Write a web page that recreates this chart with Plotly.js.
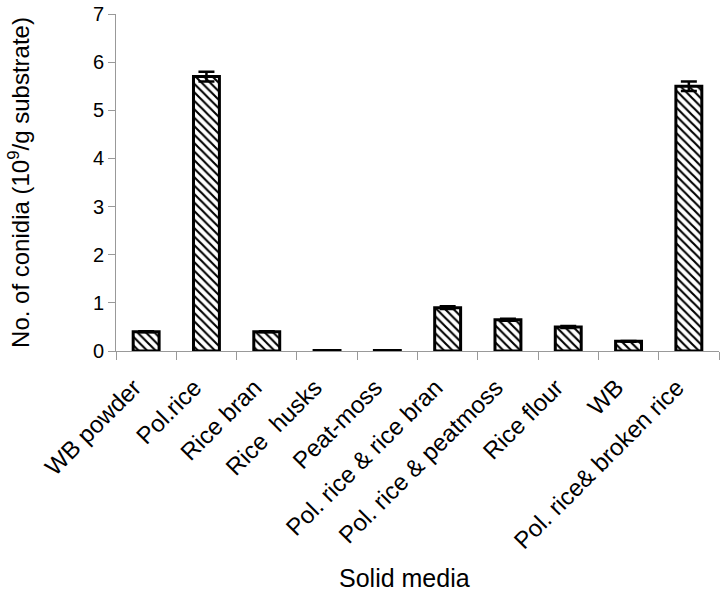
<!DOCTYPE html>
<html>
<head>
<meta charset="utf-8">
<script src="https://cdn.plot.ly/plotly-3.0.1.min.js"></script>
<style>html,body{margin:0;padding:0;background:#fff;}#chart{width:721px;height:591px;}</style>
</head>
<body>
<div id="chart"></div>
<script>
const categories = ["WB powder", "Pol.rice", "Rice bran", "Rice  husks", "Peat-moss", "Pol. rice & rice bran", "Pol. rice & peatmoss", "Rice flour", "WB", "Pol. rice& broken rice"];
const conidia = [0.4, 5.7, 0.4, 0.01, 0.01, 0.9, 0.65, 0.5, 0.2, 5.5];
const errors = [0.01, 0.1, 0.01, 0, 0, 0.03, 0.02, 0.02, 0.01, 0.1];
const yTicks = [0, 1, 2, 3, 4, 5, 6, 7];
const xTitle = "Solid media";
const yTitle = "No. of conidia (10<sup>9</sup>/g substrate)";

const font = "Liberation Sans, Arial, sans-serif";
Plotly.newPlot("chart", [{
  type: "bar",
  x: categories,
  y: conidia,
  width: 0.43,
  marker: {
    color: "#ffffff",
    line: {color: "#000000", width: 3},
    pattern: {shape: "\\", fgcolor: "#000000", bgcolor: "#ffffff", size: 6, solidity: 0.35}
  },
  error_y: {type: "data", array: errors, visible: true, color: "#000000", thickness: 2.5, width: 8}
}], {
  width: 721, height: 591,
  margin: {l: 116, r: 2, t: 14, b: 240},
  paper_bgcolor: "#ffffff", plot_bgcolor: "#ffffff",
  showlegend: false,
  font: {family: font, color: "#000000"},
  xaxis: {
    tickangle: -45,
    tickfont: {size: 24, family: font, color: "#000"},
    ticklabelstandoff: 12,
    ticklabelshift: -12,
    showline: true, linecolor: "#999999", linewidth: 1,
    ticks: "outside", ticklen: 8, tickcolor: "#999999",
    tickson: "boundaries",
    showgrid: false, zeroline: false
  },
  yaxis: {
    range: [0, 7],
    tickvals: yTicks,
    tickfont: {size: 20, family: font, color: "#000"},
    showline: true, linecolor: "#999999", linewidth: 1,
    ticks: "outside", ticklen: 7, tickcolor: "#999999",
    showgrid: false, zeroline: false,
    title: {text: yTitle, font: {size: 24, family: font, color: "#000"}, standoff: 56}
  },
  annotations: [{
    text: xTitle, xref: "paper", yref: "paper", x: 0.479, y: -0.674,
    xanchor: "center", yanchor: "middle", showarrow: false,
    font: {size: 25, family: font, color: "#000"}
  }]
}, {displayModeBar: false, staticPlot: true});
</script>
</body>
</html>
